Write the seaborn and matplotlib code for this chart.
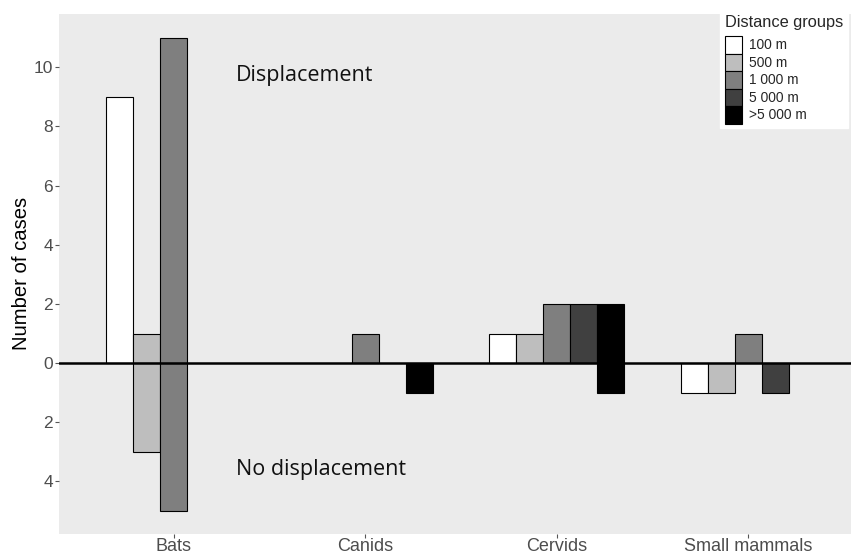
import matplotlib
matplotlib.use("Agg")
import matplotlib.pyplot as plt
import seaborn as sns
import pandas as pd
import numpy as np
from matplotlib.patches import Patch

categories = ["Bats", "Canids", "Cervids", "Small mammals"]
groups = ["100 m", "500 m", "1 000 m", "5 000 m", ">5 000 m"]
colors = ["#FFFFFF", "#BEBEBE", "#7F7F7F", "#404040", "#000000"]

# displacement (positive) counts per category, per distance group (None = no bar)
disp_bats = [9, 1, 11, None, None]
disp_canids = [None, None, 1, None, None]
disp_cervids = [1, 1, 2, 2, 2]
disp_small = [None, None, 1, None, None]
# no displacement counts (drawn downward)
nodisp_bats = [None, 3, 5, None, None]
nodisp_canids = [None, None, None, None, 1]
nodisp_cervids = [None, None, None, None, 1]
nodisp_small = [1, 1, None, 1, None]

yticks = [-4, -2, 0, 2, 4, 6, 8, 10]
yticklabels = ["4", "2", "0", "2", "4", "6", "8", "10"]


def build(rows, sign):
    recs = []
    for cat, vals in zip(categories, rows):
        for g, v in zip(groups, vals):
            if v is not None:
                recs.append({"category": cat, "group": g, "n": sign * v})
    return pd.DataFrame(recs)


pos = build([disp_bats, disp_canids, disp_cervids, disp_small], 1)
neg = build([nodisp_bats, nodisp_canids, nodisp_cervids, nodisp_small], -1)

sns.set_style("white")
plt.rcParams["font.family"] = ["Liberation Sans", "DejaVu Sans"]

fig = plt.figure(figsize=(8.51, 5.54), dpi=100)
# y: 11.8 at 14px, -5.76 at 533.5px from top
ax = fig.add_axes([59 / 851, (554 - 533.5) / 554, (863.4 - 59) / 851, (533.5 - 14) / 554])
ax.set_facecolor("#EBEBEB")

pal = dict(zip(groups, colors))
for df in (pos, neg):
    sns.barplot(data=df, x="category", y="n", hue="group", order=categories,
                hue_order=groups, palette=pal, dodge=True, width=0.705,
                edgecolor="black", linewidth=0.8, errorbar=None, legend=False,
                saturation=1, ax=ax)

ax.axhline(0, color="black", linewidth=1.8, zorder=5)
ax.set_xlim(-0.6, 3.6)
ax.set_ylim(-5.76, 11.8)
ax.set_yticks(yticks)
ax.set_yticklabels(yticklabels)
for s in ax.spines.values():
    s.set_visible(False)
ax.tick_params(axis="both", which="both", length=3, width=0.8, color="#555555",
               labelcolor="#4D4D4D", labelsize=13, direction="out",
               left=True, bottom=True)
ax.tick_params(axis="y", pad=1.5, labelsize=12.5)
ax.tick_params(axis="x", pad=0.5)
ax.set_xlabel("")
ax.set_ylabel("Number of cases", fontsize=14.6, color="black", labelpad=2)

ax.text(0.324, 9.73, "Displacement", fontsize=15.5, family="Open Sans",
        va="center", ha="left", color="#111111")
ax.text(0.324, -3.6, "No displacement", fontsize=15.5, family="Open Sans",
        va="center", ha="left", color="#111111")

handles = [Patch(facecolor=c, edgecolor="black", linewidth=0.8, label=g)
           for g, c in zip(groups, colors)]
leg = fig.legend(handles=handles, title="Distance groups", loc="upper left",
                 bbox_to_anchor=(720 / 851, 1 - 10 / 554), frameon=True,
                 fontsize=9.9, title_fontsize=11.8, handlelength=1.24,
                 handleheight=1.58, handletextpad=0.55, labelspacing=0.0,
                 borderpad=0.35, borderaxespad=0, fancybox=False,
                 framealpha=1)
leg.get_frame().set_facecolor("white")
leg.get_frame().set_edgecolor("white")
leg._legend_box.align = "left"
leg._legend_box.sep = 4.5

fig.savefig("out.png", dpi=100, facecolor="white")
